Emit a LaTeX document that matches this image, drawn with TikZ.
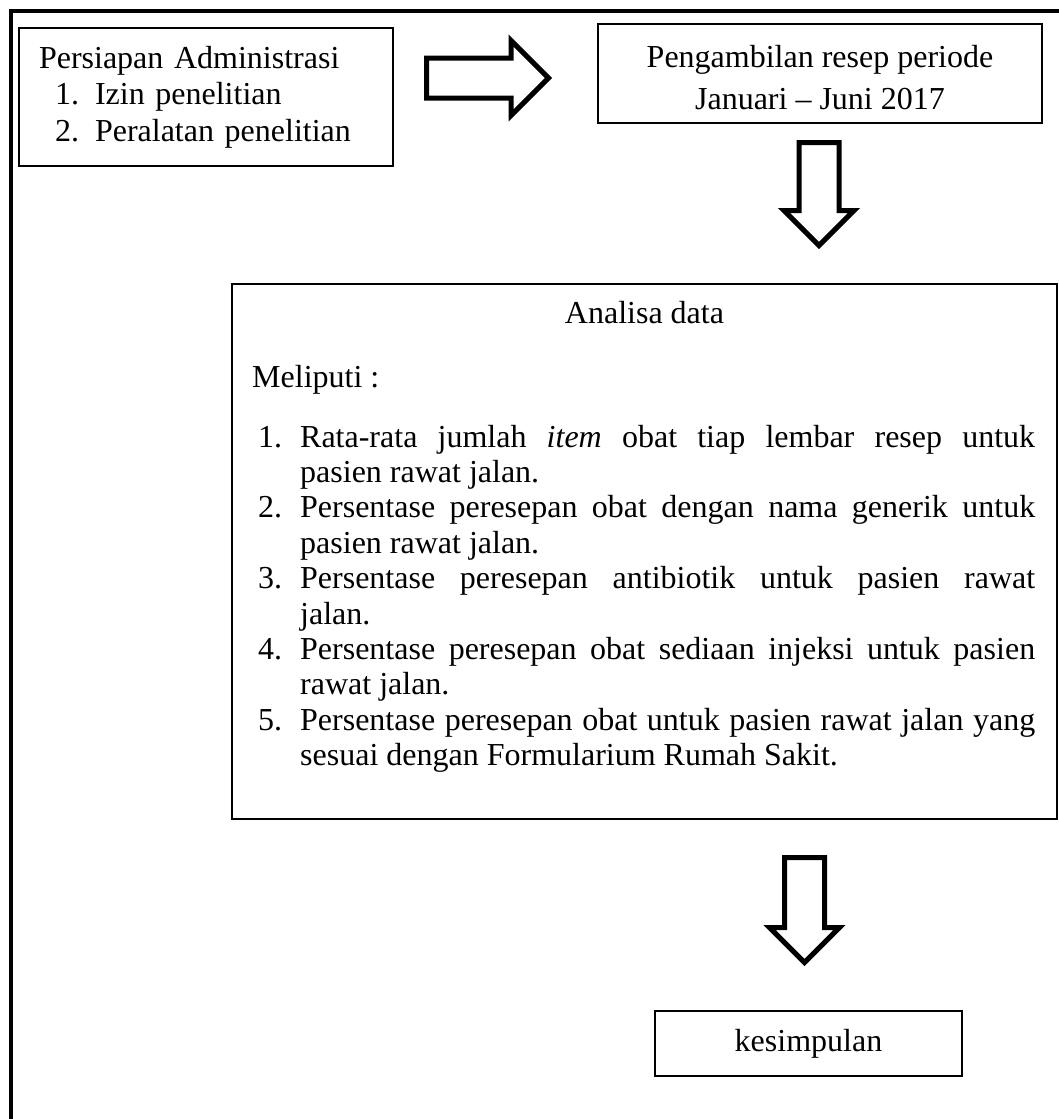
\documentclass[tikz,border=0pt]{standalone}
\usepackage{fontspec}
\setmainfont{Liberation Serif}
\usetikzlibrary{shapes.arrows,positioning}

% one numbered point of the analysis list
\newcommand\butir[2]{\hangindent=42pt\hangafter=1\noindent\makebox[42pt][l]{#1.}#2\par}

\begin{document}
\begin{tikzpicture}[
x=1pt,y=-1pt,
box/.style={draw,line width=1.3pt,inner sep=0pt,font=\fontsize{32}{36.5}\selectfont},
teks/.style={inner sep=0pt,font=\fontsize{32}{35.4}\selectfont},
panah/.style={single arrow,draw,line width=5pt,inner sep=0pt,single arrow tip angle=90,
  text height=17.5pt,text depth=17.5pt,anchor=tail}
]
\useasboundingbox (0,0) rectangle (1059,1119);
\begin{scope}
\clip (0,0) rectangle (1059,1119);
\draw[line width=4pt] (10.5,1130) -- (10.5,10.5) -- (1070,10.5);
\end{scope}

\node[box,minimum width=374pt,minimum height=138pt,text width=334pt,align=left] (admin) at (206,97)
 {Persiapan Administrasi\\
  \hspace*{16pt}\makebox[40pt][l]{1.}Izin penelitian\\
  \hspace*{16pt}\makebox[40pt][l]{2.}Peralatan penelitian};
\node[box,minimum width=444pt,minimum height=99pt,align=center,font=\fontsize{32}{42}\selectfont] (resep) at (820,73.5)
 {\rule{0pt}{30pt}Pengambilan resep periode\\Januari – Juni 2017};

\node[box,minimum width=825pt,minimum height=535pt] (analisa) at (644.5,551.5) {};
\node[teks,anchor=base] (judul) at (644.5,323) {Analisa data};
\node[teks,anchor=base west] (meliputi) at (252,387) {Meliputi :};
\node[teks,anchor=base west,text width=777pt,align=justify] (daftar) at (258,447) {%
 \butir{1}{Rata-rata jumlah \textit{item} obat tiap lembar resep untuk\linebreak pasien rawat jalan.}
 \butir{2}{Persentase peresepan obat dengan nama generik untuk\linebreak pasien rawat jalan.}
 \butir{3}{Persentase peresepan antibiotik untuk pasien rawat\linebreak jalan.}
 \butir{4}{Persentase peresepan obat sediaan injeksi untuk pasien\linebreak rawat jalan.}
 \butir{5}{Persentase peresepan obat untuk pasien rawat jalan yang\linebreak sesuai dengan Formularium Rumah Sakit.}};

\node[box,minimum width=307pt,minimum height=65pt] (simpul) at (808.5,1043.5) {kesimpulan};

\node[panah,minimum height=122pt,minimum width=70pt,single arrow head extend=17.5pt] (panah1) at (424,78) {};
\node[panah,rotate=-90,minimum height=103pt,minimum width=65pt,single arrow head extend=15pt] (panah2) at (819,140) {};
\node[panah,rotate=-90,minimum height=105pt,minimum width=65pt,single arrow head extend=15pt] (panah3) at (804.5,855) {};
\end{tikzpicture}
\end{document}
